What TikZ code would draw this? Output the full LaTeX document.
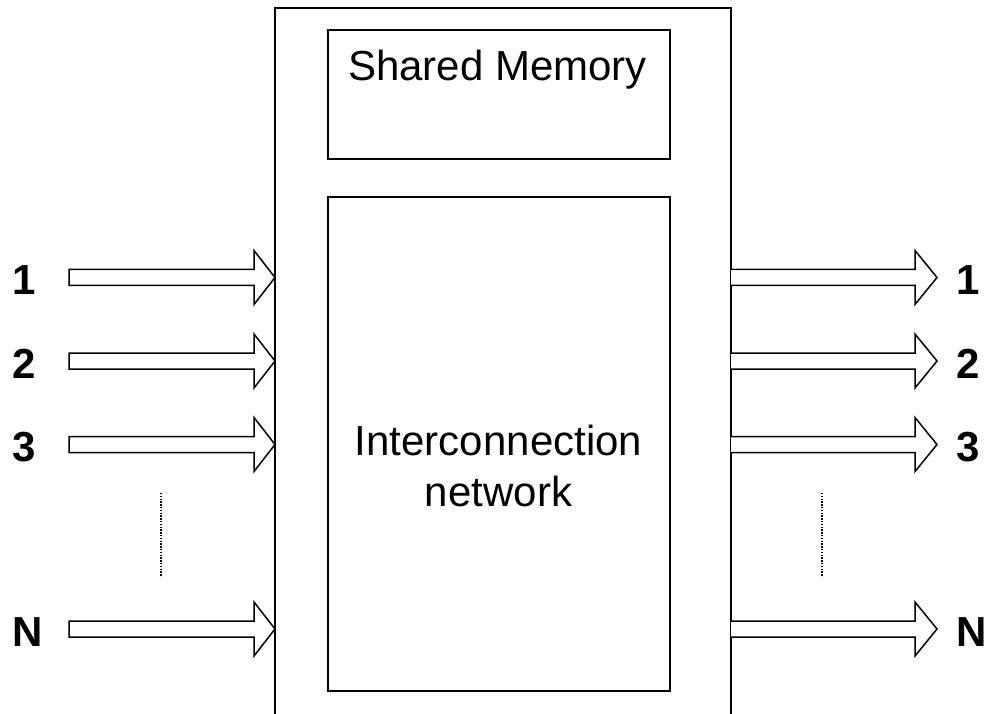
\documentclass[tikz,border=0pt]{standalone}
\usepackage{fontspec}
\setmainfont{Liberation Sans}
\usetikzlibrary{calc}
\begin{document}
\begin{tikzpicture}[x=1pt,y=-1pt,
  boxline/.style={draw=black, line width=1.8pt},
  blockarrow/.style={draw=black, line width=1.5pt, fill=white, line join=miter},
  numlabel/.style={anchor=base west, inner sep=0pt, font=\fontsize{42}{48}\selectfont\bfseries},
  dotline/.style={line width=1.6pt, dash pattern=on 1.4pt off 1.4pt}
]
\useasboundingbox (0,0) rectangle (986,714);
% outer switch box (bottom edge lies outside the picture)
\coordinate (oBL) at (275,720);
\coordinate (oTL) at (275,8);
\coordinate (oTR) at (731,8);
\coordinate (oBR) at (731,720);
\draw[boxline] (oBL) -- (oTL) -- (oTR) -- (oBR);
% shared memory
\node[boxline, minimum width=342pt, minimum height=129pt, inner sep=0pt] (mem) at (499,94.5) {};
\node[anchor=base, inner sep=0pt, font=\fontsize{42}{48}\selectfont] (memtxt) at (497.5,81) {Shared Memory};
% interconnection network
\node[boxline, minimum width=342pt, minimum height=494pt, inner sep=0pt] (net) at (499,444) {};
\node[anchor=base, inner sep=0pt, font=\fontsize{42}{51}\selectfont] (nettxt1) at (498.5,455) {Interconnection};
\node[anchor=base, inner sep=0pt, font=\fontsize{42}{51}\selectfont] (nettxt2) at (498.5,506.5) {network};
% arrows
\foreach \n/\y/\t in {a/277.5/1, b/361/2, c/444.5/3, d/629/N}{
  \coordinate (in\n) at (69,\y);
  \coordinate (tipin\n) at (275,\y);
  \coordinate (out\n) at (731,\y);
  \coordinate (tipout\n) at (937,\y);
  \draw[blockarrow] ($(in\n)+(0,-8)$) -- ($(tipin\n)+(-21,-8)$) -- ($(tipin\n)+(-21,-27)$) -- (tipin\n)
     -- ($(tipin\n)+(-21,27)$) -- ($(tipin\n)+(-21,8)$) -- ($(in\n)+(0,8)$) -- cycle;
  \draw[blockarrow] ($(out\n)+(0,-8)$) -- ($(tipout\n)+(-22,-8)$) -- ($(tipout\n)+(-22,-27)$) -- (tipout\n)
     -- ($(tipout\n)+(-22,27)$) -- ($(tipout\n)+(-22,8)$) -- ($(out\n)+(0,8)$);
  \node[numlabel] (lin\n) at (12.5,\y+17) {\t};
  \node[numlabel] (lout\n) at (956.5,\y+17) {\t};
}
% ellipsis dots
\coordinate (dl1) at (161,493);
\coordinate (dl2) at (161,577);
\coordinate (dr1) at (822,493);
\coordinate (dr2) at (822,577);
\draw[dotline] (dl1) -- (dl2);
\draw[dotline] (dr1) -- (dr2);
\end{tikzpicture}
\end{document}
